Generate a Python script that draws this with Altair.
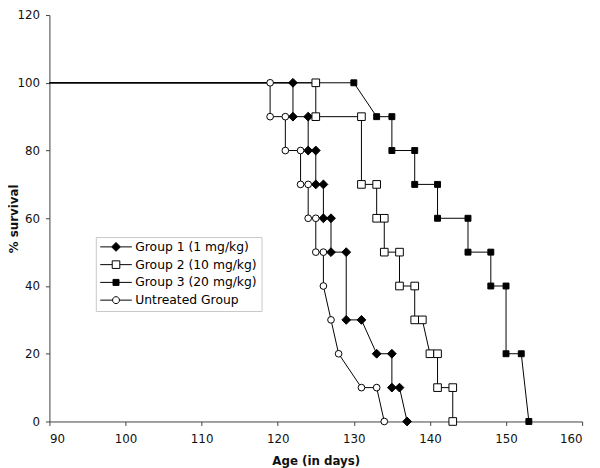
import altair as alt
import pandas as pd

groups = ["Group 1 (1 mg/kg)", "Group 2 (10 mg/kg)", "Group 3 (20 mg/kg)", "Untreated Group"]

g1_days = [90, 122, 122, 124, 124, 125, 125, 126, 126, 127, 127, 129, 129, 131, 133, 135, 135, 136, 137]
g1_pct = [100, 100, 90, 90, 80, 80, 70, 70, 60, 60, 50, 50, 30, 30, 20, 20, 10, 10, 0]

g2_days = [90, 125, 125, 131, 131, 133, 133, 134, 134, 136, 136, 138, 138, 139, 140, 141, 141, 143, 143]
g2_pct = [100, 100, 90, 90, 70, 70, 60, 60, 50, 50, 40, 40, 30, 30, 20, 20, 10, 10, 0]

g3_days = [90, 130, 133, 135, 135, 138, 138, 141, 141, 145, 145, 148, 148, 150, 150, 152, 153]
g3_pct = [100, 100, 90, 90, 80, 80, 70, 70, 60, 60, 50, 50, 40, 40, 20, 20, 0]

u_days = [90, 119, 119, 121, 121, 123, 123, 124, 124, 125, 125, 126, 126, 127, 128, 131, 133, 134]
u_pct = [100, 100, 90, 90, 80, 80, 70, 70, 60, 60, 50, 50, 40, 30, 20, 10, 10, 0]

x_ticks = [90, 100, 110, 120, 130, 140, 150, 160]
y_ticks = [0, 20, 40, 60, 80, 100, 120]

marker_shapes = ["diamond", "square", "square", "circle"]
marker_fills = ["black", "white", "black", "white"]
marker_sizes = [80, 60, 36, 46]

# legend symbols: line segment with marker in the middle (unit box = 32px)
legend_paths = [
    "M-1,0H-0.28M0.28,0H1M0,-0.28L0.28,0L0,0.28L-0.28,0Z",
    "M-1,0H-0.24M0.24,0H1M-0.24,-0.24H0.24V0.24H-0.24Z",
    "M-1,0H-0.19M0.19,0H1M-0.19,-0.19H0.19V0.19H-0.19Z",
    "M-1,0H-0.22M0.22,0H1M0.22,0A0.22,0.22,0,1,1,-0.22,0A0.22,0.22,0,1,1,0.22,0Z",
]

rows = []
for name, days, pct in zip(groups, [g1_days, g2_days, g3_days, u_days], [g1_pct, g2_pct, g3_pct, u_pct]):
    for i, (d, p) in enumerate(zip(days, pct)):
        rows.append({"group": name, "day": d, "pct": p, "idx": i})
df = pd.DataFrame(rows)

FONT = "DejaVu Sans"

x = alt.X(
    "day:Q",
    scale=alt.Scale(domain=[90, 160], nice=False, zero=False),
    axis=alt.Axis(values=x_ticks, title="Age (in days)", labelPadding=8, titlePadding=12),
)
y = alt.Y(
    "pct:Q",
    scale=alt.Scale(domain=[0, 120], nice=False),
    axis=alt.Axis(values=y_ticks, title="% survival", labelPadding=6, titleX=-29),
)

base = alt.Chart(df).encode(x=x, y=y)

lines = base.mark_line(color="black", strokeWidth=1).encode(
    detail="group:N", order="idx:Q"
)

point_layers = []
for name, shp, fll, sz in zip(groups, marker_shapes, marker_fills, marker_sizes):
    point_layers.append(
        base.transform_filter(alt.FieldEqualPredicate(field="group", equal=name))
        .transform_filter("datum.idx > 0")
        .mark_point(shape=shp, filled=True, fill=fll, stroke="black",
                    strokeWidth=1, size=sz, opacity=1)
    )

leg = alt.Legend(
    title=None,
    orient="none",
    legendX=47,
    legendY=225,
    strokeColor="#c8c8c8",
    fillColor="white",
    padding=4,
    rowPadding=5,
    clipHeight=12,
    labelFont=FONT,
    labelFontSize=12.5,
    labelColor="black",
    labelOffset=3,
    symbolSize=1024,
    symbolStrokeWidth=1,
)

legend_layer = base.transform_filter("false").mark_point(
    filled=True, stroke="black", strokeWidth=1, opacity=1
).encode(
    shape=alt.Shape("group:N", scale=alt.Scale(domain=groups, range=legend_paths), legend=leg),
    fill=alt.Fill("group:N", scale=alt.Scale(domain=groups, range=marker_fills), legend=leg),
)

chart = alt.layer(lines, *point_layers, legend_layer).properties(
    width=540,
    height=412,
    padding={"left": 42, "top": 4, "right": 10, "bottom": 44},
    autosize=alt.AutoSizeParams(type="none"),
).configure_view(stroke=None).configure_axis(
    grid=False,
    domainColor="#404040",
    tickColor="#404040",
    tickSize=4,
    labelFont=FONT,
    labelFontSize=12,
    labelColor="#111",
    titleFont=FONT,
    titleFontSize=12,
    titleFontWeight="bold",
    titleColor="#111",
)

chart.save("out.html", embed_options={"renderer": "svg", "actions": False})
